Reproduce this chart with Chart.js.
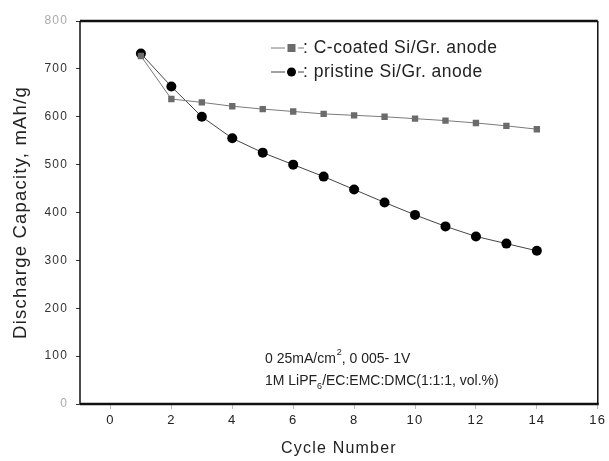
<!DOCTYPE html>
<html>
<head>
<meta charset="utf-8">
<script src="https://cdn.jsdelivr.net/npm/chart.js@4.4.1/dist/chart.umd.min.js"></script>
<style>
  html, body { margin: 0; padding: 0; background: #fff; }
</style>
</head>
<body>
<canvas id="chart" width="609" height="461"></canvas>
<script>
// data
const cycles = [1, 2, 3, 4, 5, 6, 7, 8, 9, 10, 11, 12, 13, 14];
const coatedCapacity = [727, 637, 630, 622, 616, 611, 606, 603, 600, 596, 592, 587, 581, 574];
const pristineCapacity = [732, 663, 600, 555, 525, 500, 475, 448, 421, 395, 371, 350, 335, 320];
const xTicks = [0, 2, 4, 6, 8, 10, 12, 14, 16];
const yTicks = [0, 100, 200, 300, 400, 500, 600, 700, 800];
const coatedLabel = "C-coated Si/Gr. anode";
const pristineLabel = "pristine Si/Gr. anode";

const FONT = "'Liberation Sans', Arial, sans-serif";

// the scanned figure has loose letter spacing
const spacingPlugin = {
  id: "spacing",
  beforeDraw(chart) {
    chart.ctx.letterSpacing = "1.2px";
  }
};

// box around the plot area
const framePlugin = {
  id: "frame",
  afterDraw(chart) {
    const { ctx, chartArea: a } = chart;
    ctx.save();
    ctx.strokeStyle = "#111";
    ctx.lineWidth = 2.5;
    ctx.beginPath();
    ctx.moveTo(a.left, a.top); ctx.lineTo(a.right, a.top);
    ctx.moveTo(a.left, a.bottom); ctx.lineTo(a.right + 1, a.bottom);
    ctx.stroke();
    ctx.lineWidth = 1.5;
    ctx.beginPath();
    ctx.moveTo(a.left, a.top); ctx.lineTo(a.left, a.bottom);
    ctx.moveTo(a.right, a.top); ctx.lineTo(a.right, a.bottom);
    ctx.stroke();
    ctx.restore();
  }
};

// legend inside the plot + condition notes
const notesPlugin = {
  id: "notes",
  afterDraw(chart) {
    const ctx = chart.ctx;
    ctx.save();
    ctx.textBaseline = "middle";
    ctx.textAlign = "left";

    chart.data.datasets.forEach((ds, i) => {
      const y = 48 + i * 24;
      ctx.strokeStyle = ds.borderColor;
      ctx.lineWidth = 1;
      ctx.beginPath();
      ctx.moveTo(271, y); ctx.lineTo(285, y);
      ctx.moveTo(298, y); ctx.lineTo(304, y);
      ctx.stroke();
      ctx.fillStyle = ds.pointBackgroundColor;
      if (ds.pointStyle === "rect") {
        ctx.fillRect(291.5 - 4, y - 4, 8, 8);
      } else {
        ctx.beginPath();
        ctx.arc(291.5, y, 4.5, 0, Math.PI * 2);
        ctx.fill();
      }
      ctx.fillStyle = "#222";
      ctx.letterSpacing = "0.5px";
      ctx.font = "17.5px " + FONT;
      ctx.fillText(": " + ds.label, 303, y);
    });

    ctx.letterSpacing = "0px";
    ctx.fillStyle = "#222";
    ctx.font = "14px " + FONT;
    let x = 265;
    let t = "0 25mA/cm";
    ctx.fillText(t, x, 359);
    x += ctx.measureText(t).width;
    ctx.font = "9px " + FONT;
    ctx.fillText("2", x + 1, 353);
    x += ctx.measureText("2").width + 1;
    ctx.font = "14px " + FONT;
    ctx.fillText(", 0 005- 1V", x, 359);

    x = 265;
    t = "1M LiPF";
    ctx.fillText(t, x, 381);
    x += ctx.measureText(t).width;
    ctx.font = "9px " + FONT;
    ctx.fillText("6", x, 387);
    x += ctx.measureText("6").width;
    ctx.font = "14px " + FONT;
    ctx.fillText("/EC:EMC:DMC(1:1:1, vol.%)", x, 381);
    ctx.restore();
  }
};

new Chart(document.getElementById("chart").getContext("2d"), {
  type: "line",
  data: {
    labels: cycles,
    datasets: [
      {
        label: coatedLabel,
        data: cycles.map((c, i) => ({ x: c, y: coatedCapacity[i] })),
        borderColor: "#7a7a7a",
        borderWidth: 1,
        pointStyle: "rect",
        pointRadius: 4.5,
        pointBackgroundColor: "#6b6b6b",
        pointBorderWidth: 0,
        tension: 0
      },
      {
        label: pristineLabel,
        data: cycles.map((c, i) => ({ x: c, y: pristineCapacity[i] })),
        borderColor: "#444",
        borderWidth: 1,
        pointStyle: "circle",
        pointRadius: 5,
        pointBackgroundColor: "#000",
        pointBorderWidth: 0,
        tension: 0
      }
    ]
  },
  options: {
    responsive: false,
    devicePixelRatio: 1,
    animation: false,
    layout: { padding: { top: 21, right: 8, left: 0, bottom: 0 } },
    plugins: {
      legend: { display: false },
      tooltip: { enabled: false }
    },
    scales: {
      x: {
        type: "linear",
        min: -1,
        max: 16,
        afterBuildTicks: (scale) => { scale.ticks = xTicks.map((v) => ({ value: v })); },
        afterFit: (scale) => { scale.height = 57; },
        border: { display: false },
        grid: { drawOnChartArea: false, drawTicks: true, tickLength: 5, color: "#bbb" },
        ticks: { font: { family: FONT, size: 13 }, color: "#222", padding: 4, maxRotation: 0 },
        title: {
          display: true,
          text: "Cycle Number",
          font: { family: FONT, size: 16 },
          color: "#222",
          padding: { top: 4, bottom: 3 }
        }
      },
      y: {
        min: 0,
        max: 800,
        afterBuildTicks: (scale) => { scale.ticks = yTicks.map((v) => ({ value: v })); },
        afterFit: (scale) => { scale.width = 80; },
        border: { display: false },
        grid: { drawOnChartArea: false, drawTicks: true, tickLength: 4, color: "#333" },
        ticks: {
          font: { family: FONT, size: 12 },
          color: (c) => (c.tick.value === 0 || c.tick.value === 800 ? "#aaa" : "#333"),
          padding: 8
        },
        title: {
          display: true,
          text: "Discharge Capacity, mAh/g",
          font: { family: FONT, size: 18.5 },
          color: "#222",
          padding: { top: 10, bottom: 0 }
        }
      }
    }
  },
  plugins: [spacingPlugin, framePlugin, notesPlugin]
});
</script>
</body>
</html>
